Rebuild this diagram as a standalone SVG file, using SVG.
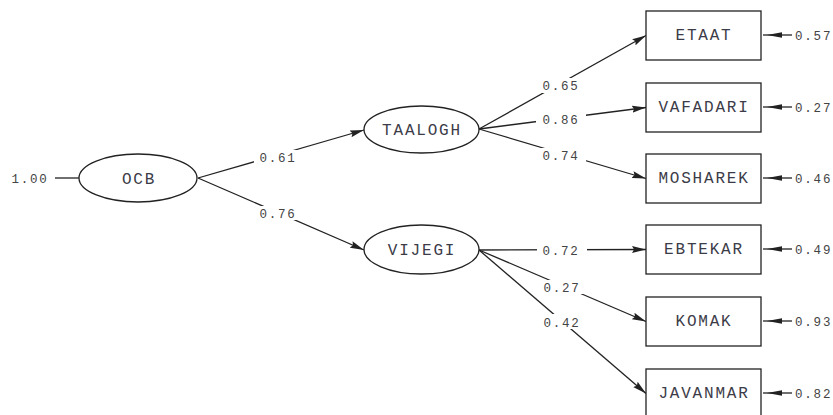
<svg xmlns="http://www.w3.org/2000/svg" width="833" height="415" viewBox="0 0 833 415">
<style>
.n{fill:#fff;stroke:#222;stroke-width:1.3}
.c{stroke:#222;stroke-width:1.3;fill:none}
.ca{stroke:#222;stroke-width:1.3;fill:none;marker-end:url(#ah)}
.t{font-family:"Liberation Mono","Courier New",monospace;font-size:16px;letter-spacing:1.8px;fill:#3c3c48;text-anchor:middle}
.v{font-family:"Liberation Mono","Courier New",monospace;font-size:12.5px;letter-spacing:1.8px;fill:#444;text-anchor:middle}
.e{font-family:"Liberation Mono","Courier New",monospace;font-size:12.5px;letter-spacing:1.8px;fill:#444}
.bg{fill:#fff}
.eh{fill:#222}
</style>
<defs>
<marker id="ah" markerUnits="userSpaceOnUse" markerWidth="15" markerHeight="8" refX="14" refY="4" orient="auto">
<path d="M0,0.5 L14,4 L0,7.5 L2,4 z" fill="#222"/>
</marker>
</defs>
<rect width="833" height="415" fill="#fff"/>
<g id="connectors">
<line class="c" x1="55" y1="178" x2="79" y2="178"/>
<text class="v" x="30" y="182.5">1.00</text>
<line class="ca" x1="198" y1="178" x2="364" y2="130"/>
<rect class="bg" x="254" y="150" width="48" height="14"/>
<text class="v" x="278" y="161.5">0.61</text>
<line class="ca" x1="198" y1="178" x2="364" y2="250"/>
<rect class="bg" x="254" y="206" width="48" height="14"/>
<text class="v" x="278" y="217.5">0.76</text>
<line class="ca" x1="479" y1="129" x2="646" y2="35.5"/>
<rect class="bg" x="536" y="78" width="50" height="15"/>
<text class="v" x="561" y="90">0.65</text>
<line class="ca" x1="479" y1="129" x2="646" y2="107.5"/>
<rect class="bg" x="536" y="112" width="50" height="14"/>
<text class="v" x="561" y="123.5">0.86</text>
<line class="ca" x1="479" y1="129" x2="646" y2="178.5"/>
<rect class="bg" x="536" y="148" width="50" height="14"/>
<text class="v" x="561" y="159.5">0.74</text>
<line class="ca" x1="479" y1="250" x2="646" y2="249.5"/>
<rect class="bg" x="537" y="243" width="50" height="14"/>
<text class="v" x="561" y="254.5">0.72</text>
<line class="ca" x1="479" y1="250" x2="646" y2="321.5"/>
<rect class="bg" x="538" y="280" width="46" height="14"/>
<text class="v" x="562" y="291.5">0.27</text>
<line class="ca" x1="479" y1="250" x2="646" y2="393.5"/>
<rect class="bg" x="540" y="314" width="42" height="15"/>
<text class="v" x="562" y="326.5">0.42</text>
<g id="errors">
<line class="c" x1="763" y1="35" x2="792" y2="35"/><polygon class="eh" points="767,35 782,32.2 782,37.8"/>
<line class="c" x1="763" y1="107" x2="792" y2="107"/><polygon class="eh" points="767,107 782,104.2 782,109.8"/>
<line class="c" x1="763" y1="178" x2="792" y2="178"/><polygon class="eh" points="767,178 782,175.2 782,180.8"/>
<line class="c" x1="763" y1="249" x2="792" y2="249"/><polygon class="eh" points="767,249 782,246.2 782,251.8"/>
<line class="c" x1="763" y1="321" x2="792" y2="321"/><polygon class="eh" points="767,321 782,318.2 782,323.8"/>
<line class="c" x1="763" y1="393" x2="792" y2="393"/><polygon class="eh" points="767,393 782,390.2 782,395.8"/>
<text class="e" x="795" y="39.5">0.57</text>
<text class="e" x="795" y="111.5">0.27</text>
<text class="e" x="795" y="182.5">0.46</text>
<text class="e" x="795" y="253.5">0.49</text>
<text class="e" x="795" y="325.5">0.93</text>
<text class="e" x="795" y="397.5">0.82</text>
</g>
</g>
<g id="OCB"><ellipse class="n" cx="138" cy="178" rx="59" ry="24"/><text class="t" x="139" y="183.5">OCB</text></g>
<g id="TAALOGH"><ellipse class="n" cx="421.5" cy="129.5" rx="57.5" ry="23.5"/><text class="t" x="422" y="135">TAALOGH</text></g>
<g id="VIJEGI"><ellipse class="n" cx="421.5" cy="249.5" rx="57.5" ry="24.5"/><text class="t" x="422" y="255">VIJEGI</text></g>
<g id="ETAAT"><rect class="n" x="646" y="11" width="115" height="49"/><text class="t" x="704" y="40">ETAAT</text></g>
<g id="VAFADARI"><rect class="n" x="646" y="83" width="115" height="49"/><text class="t" x="704" y="112">VAFADARI</text></g>
<g id="MOSHAREK"><rect class="n" x="646" y="154" width="115" height="49"/><text class="t" x="704" y="183">MOSHAREK</text></g>
<g id="EBTEKAR"><rect class="n" x="646" y="225" width="115" height="49"/><text class="t" x="704" y="254">EBTEKAR</text></g>
<g id="KOMAK"><rect class="n" x="646" y="297" width="115" height="49"/><text class="t" x="704" y="326">KOMAK</text></g>
<g id="JAVANMAR"><rect class="n" x="646" y="369" width="115" height="49"/><text class="t" x="704" y="398">JAVANMAR</text></g>
</svg>
